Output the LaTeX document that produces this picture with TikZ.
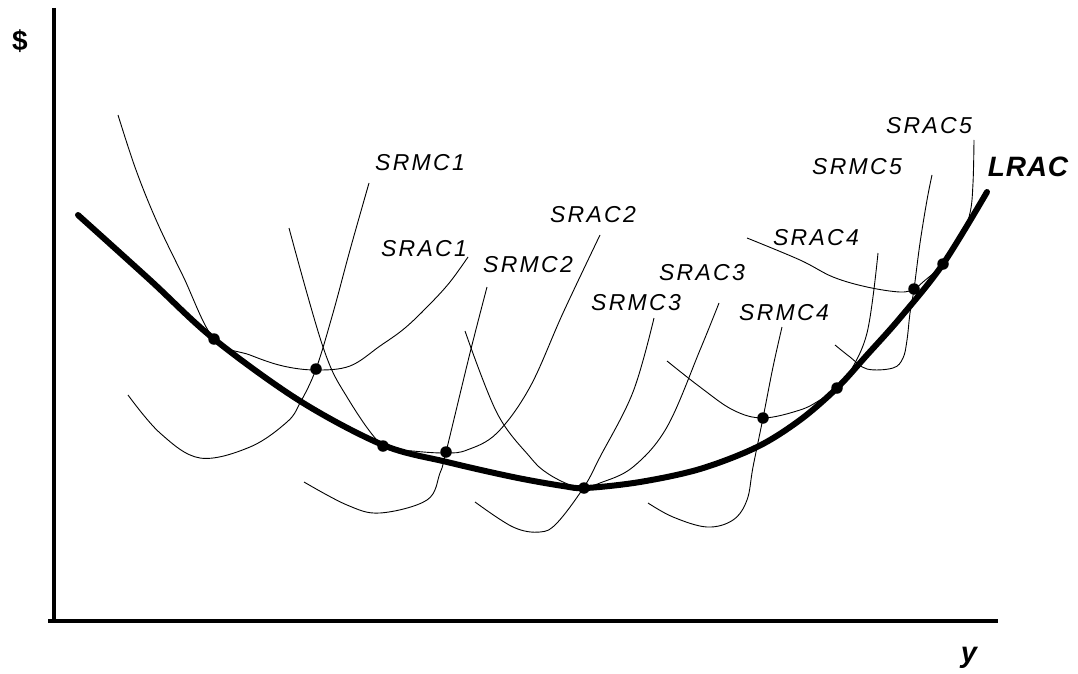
\documentclass[tikz,border=0pt]{standalone}
\usepackage{fontspec}
\setmainfont{Liberation Sans}
\newfontfamily\lblfont[LetterSpace=10]{Liberation Sans}
\newfontfamily\bigfont[LetterSpace=3]{Liberation Sans}
\begin{document}
\begin{tikzpicture}[x=1pt,y=-1pt,
  axis/.style={line width=4pt},
  lrac/.style={line width=6pt, line cap=round, line join=round},
  thin/.style={line width=0.9pt},
  lbl/.style={inner sep=0pt, font=\lblfont\itshape\fontsize{23}{25}\selectfont},
  dot/.style={circle, fill=black, inner sep=0pt, minimum size=11.5pt}
]
\useasboundingbox[fill=white] (0,0) rectangle (1078,674);

% axes
\draw[axis] (53.5,8) -- (53.5,623);
\draw[axis] (48,621) -- (998,621);
\node[font=\bfseries\fontsize{28}{28}\selectfont, inner sep=0pt] (dollar) at (20,41) {\$};
\node[font=\bfseries\itshape\fontsize{29}{29}\selectfont, inner sep=0pt] (ylab) at (969,658) {y};

% SRAC1
\draw[thin] plot[smooth, tension=0.6] coordinates {(118,115) (136,170) (157,222) (183,276) (214,339) (250,355) (283,366) (316,370) (350,366) (380,346) (405,328) (430,304) (450,282) (468,257)};
% SRMC1
\draw[thin] plot[smooth, tension=0.6] coordinates {(128,395) (160,433) (200,458) (250,447) (287,422) (300,403) (316,369) (333,313) (350,250) (369,183)};
% SRAC2
\draw[thin] plot[smooth, tension=0.6] coordinates {(289,228) (323,347) (347,397) (383,446) (413,451) (446,453) (467,450) (497,433) (530,387) (563,313) (600,235)};
% SRMC2
\draw[thin] plot[smooth, tension=0.6] coordinates {(304,482) (347,505) (380,513) (427,500) (440,473) (446,452) (470,353) (487,287)};
% SRAC3
\draw[thin] plot[smooth, tension=0.6] coordinates {(465,331) (497,413) (530,457) (547,473) (570,485) (584,487) (600,483) (633,467) (667,427) (700,350) (719,303)};
% SRMC3
\draw[thin] plot[smooth, tension=0.6] coordinates {(475,502) (513,527) (540,532) (557,523) (584,487) (600,457) (633,392) (654,318)};
% SRAC4
\draw[thin] plot[smooth, tension=0.6] coordinates {(667,361) (700,387) (733,410) (763,418) (800,410) (820,400) (837,388) (847,377) (867,333) (878,253)};
% SRMC4
\draw[thin] plot[smooth, tension=0.6] coordinates {(648,503) (673,517) (707,527) (733,520) (747,500) (753,467) (763,418) (773,367) (782,327)};
% SRAC5
\draw[thin] plot[smooth, tension=0.6] coordinates {(747,238) (800,260) (833,277) (867,287) (900,292) (914,289) (923,282) (943,264) (960,240) (970,213) (973,183) (974,140)};
% SRMC5
\draw[thin] plot[smooth, tension=0.6] coordinates {(835,345) (850,357) (867,369) (893,368) (903,358) (907,340) (910,313) (914,289) (920,243) (927,200) (932,175)};

% LRAC
\draw[lrac] plot[smooth, tension=0.55] coordinates {(78,215) (150,280) (214,339) (300,401) (383,445) (447,462) (513,477) (563,486) (586,488) (640,482) (700,469) (757,447) (800,420) (837,388) (867,355) (900,318) (943,264) (987,192)};

% dots
\node[dot] (d1) at (214,339) {};
\node[dot] (d2) at (316,369) {};
\node[dot] (d3) at (383,446) {};
\node[dot] (d4) at (446,452) {};
\node[dot] (d5) at (584,488) {};
\node[dot] (d6) at (763,418) {};
\node[dot] (d7) at (837,388) {};
\node[dot] (d8) at (914,289) {};
\node[dot] (d9) at (943,264) {};

% labels
\node[lbl] (lsrmc1) at (420,163) {SRMC1};
\node[lbl] (lsrac1) at (424,249) {SRAC1};
\node[lbl] (lsrmc2) at (528,265) {SRMC2};
\node[lbl] (lsrac2) at (593,215) {SRAC2};
\node[lbl] (lsrac3) at (702,273) {SRAC3};
\node[lbl] (lsrmc3) at (636,303) {SRMC3};
\node[lbl] (lsrmc4) at (784,313) {SRMC4};
\node[lbl] (lsrac4) at (816,238) {SRAC4};
\node[lbl] (lsrmc5) at (857,167) {SRMC5};
\node[lbl] (lsrac5) at (929,126) {SRAC5};
\node[inner sep=0pt, font=\bigfont\bfseries\itshape\fontsize{28}{28}\selectfont] (llrac) at (1028,167) {LRAC};
\end{tikzpicture}
\end{document}
